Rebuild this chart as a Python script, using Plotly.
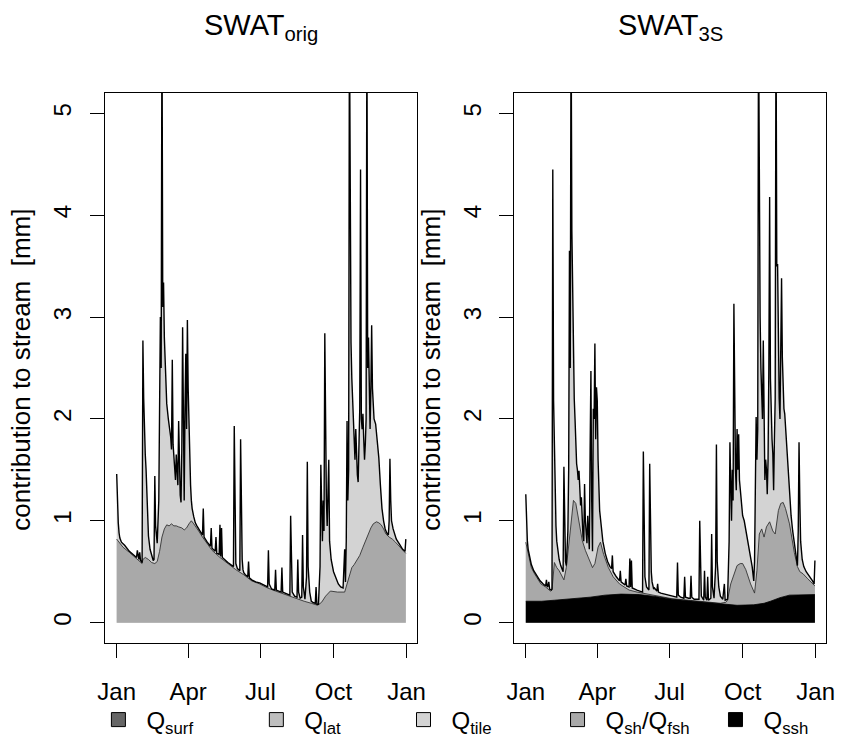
import plotly.graph_objects as go

# ---------------- data (day of year, 0 = 1 Jan; values in mm) ----------------
# SWAT_orig : top of shallow-aquifer baseflow layer and top of total stack
orig_base = [(0,0.82),(8,0.74),(16,0.69),(24,0.63),(30,0.59),(32,0.58),(33,0.62),(36,0.64),(40,0.62),(44,0.59),
             (48,0.58),(51,0.60),(54,0.70),(57,0.84),(60,0.92),(63,0.96),(66,0.95),(69,0.97),(72,0.95),(75,0.95),
             (78,0.94),(82,0.93),(85,0.91),(88,0.93),(91,0.97),(94,1.00),(97,0.97),(100,0.94),(104,0.89),(108,0.84),
             (114,0.77),(120,0.71),(130,0.64),(140,0.58),(150,0.52),(160,0.47),(170,0.41),(180,0.38),(190,0.34),
             (200,0.31),(212,0.275),(220,0.25),(228,0.23),(236,0.21),(245,0.19),(253,0.17),(258,0.20),(263,0.26),
             (269,0.31),(278,0.30),(287,0.30),(290,0.38),(293,0.46),(296,0.54),(299,0.57),(302,0.61),(306,0.66),
             (310,0.74),(313,0.80),(316,0.87),(320,0.93),(323,0.97),(327,0.99),(330,0.98),(333,0.96),(336,0.92),
             (339,0.87),(343,0.84),(347,0.82),(351,0.79),(357,0.74),(364,0.68)]
orig_total = [(0,1.46),(1,1.15),(2,0.98),(3,0.88),(4,0.83),(6,0.79),(10,0.76),(16,0.70),(22,0.66),(25,0.64),
              (26,0.71),(27,0.63),(28,0.62),(29,0.69),(30,0.61),(32,0.59),(33,2.77),(34,2.2),(35,1.82),(36,1.65),
              (37,1.5),(38,1.3),(39,1.05),(40,0.85),(42,0.72),(44,0.65),(46,0.61),(47,0.62),(48,1.44),(49,0.95),
              (50,0.80),(51,0.78),(53,1.2),(54,1.9),(55,3.0),(56,2.5),(57,6.0),(58,3.1),(59,3.34),(60,2.8),
              (61,2.5),(62,2.3),(63,2.15),(65,2.0),(67,1.88),(68,1.82),(69,1.7),(70,2.58),(71,1.75),(72,1.6),
              (73,1.45),(74,1.4),(75,1.65),(76,1.5),(77,1.35),(78,1.98),(79,1.55),(80,1.25),(81,1.18),(82,1.7),
              (83,2.9),(84,1.8),(85,1.2),(86,2.1),(87,2.64),(88,1.9),(89,2.97),(90,2.3),(91,1.9),(92,1.6),
              (93,1.35),(94,1.2),(95,1.12),(97,1.04),(99,0.98),(101,0.95),(104,0.91),(107,0.87),(108,0.86),
              (109,1.12),(110,0.84),(114,0.79),(118,0.75),(119,0.93),(120,0.73),(124,0.70),(125,0.84),(126,0.68),
              (129,0.67),(130,0.96),(131,0.65),(132,0.93),(133,0.64),(140,0.59),(147,0.55),(148,1.93),(149,0.9),
              (150,0.58),(152,0.53),(155,0.51),(156,1.80),(157,1.1),(158,0.62),(159,0.52),(160,0.49),(162,0.47),
              (165,0.45),(166,0.60),(167,0.44),(170,0.42),(175,0.40),(180,0.39),(185,0.37),(190,0.35),(191,0.71),
              (192,0.38),(195,0.33),(199,0.32),(200,0.52),(201,0.32),(204,0.31),(207,0.30),(208,0.54),(209,0.30),
              (212,0.29),(215,0.28),(218,0.27),(219,1.05),(220,0.50),(221,0.30),(224,0.26),(227,0.25),(228,0.62),
              (229,0.30),(231,0.24),(233,0.25),(234,0.86),(235,0.35),(237,0.23),(239,0.45),(240,1.58),(241,0.55),
              (243,0.30),(245,0.21),(248,0.195),(250,0.19),(251,0.35),(252,0.18),(254,0.18),(256,0.55),(257,1.55),
              (258,0.9),(259,0.8),(260,1.2),(261,0.9),(262,2.84),(263,1.8),(264,1.2),(265,0.95),(267,1.6),(268,0.8),
              (270,0.62),(273,0.5),(276,0.43),(279,0.38),(282,0.35),(285,0.34),(287,0.72),(288,0.4),(289,0.8),
              (290,1.98),(291,1.2),(292,1.5),(293,6.0),(294,3.0),(295,2.75),(296,2.4),(297,2.2),(298,2.0),
              (299,1.7),(300,1.6),(301,1.9),(302,1.5),(303,1.45),(304,1.38),(305,1.7),(306,2.1),(307,4.45),
              (308,2.0),(309,1.9),(310,2.05),(311,1.8),(312,1.6),(313,1.75),(314,2.0),(315,6.0),(316,2.5),
              (317,2.8),(318,2.0),(319,1.9),(320,2.3),(321,2.92),(322,2.3),(323,2.1),(324,2.0),(326,1.95),
              (328,1.8),(330,1.62),(332,1.35),(334,1.12),(336,1.0),(338,0.92),(340,0.88),(342,0.86),(343,1.0),
              (344,1.61),(345,1.2),(346,1.0),(348,0.92),(350,0.86),(352,0.82),(356,0.77),(360,0.72),(363,0.70),
              (364,0.82)]

# SWAT_3S : top of deep (ssh) layer, top of fsh layer, top of total stack
s3_ssh = [(0,0.21),(20,0.21),(36,0.22),(60,0.235),(81,0.25),(100,0.27),(120,0.28),(143,0.275),(165,0.255),
          (184,0.23),(205,0.215),(225,0.20),(245,0.185),(266,0.17),(287,0.175),(300,0.19),(308,0.21),(320,0.245),
          (332,0.27),(345,0.275),(364,0.275)]
s3_base = [(0,0.79),(4,0.64),(7,0.54),(11,0.48),(19,0.38),(25,0.35),(31,0.31),(33,0.32),(35,0.55),(36,0.59),
           (39,0.54),(42,0.51),(48,0.42),(51,0.54),(56,0.90),(60,1.20),(63,1.17),(67,0.97),(71,0.81),(75,0.71),
           (79,0.64),(84,0.54),(87,0.58),(91,0.74),(94,0.79),(98,0.67),(104,0.54),(110,0.45),(118,0.38),(130,0.32),
           (140,0.30),(151,0.285),(165,0.262),(184,0.235),(205,0.22),(225,0.205),(245,0.19),(252,0.20),(254,0.22),
           (258,0.38),(262,0.48),(266,0.56),(270,0.58),(273,0.58),(277,0.52),(283,0.38),(288,0.29),(291,0.51),
           (294,0.87),(297,0.92),(300,0.84),(303,0.94),(307,0.99),(311,0.90),(314,0.87),(318,1.10),(321,1.17),
           (324,1.18),(327,1.12),(332,0.97),(338,0.69),(342,0.55),(345,0.50),(349,0.48),(355,0.43),(364,0.36)]
s3_total = [(0,1.26),(1,0.95),(2,0.80),(3,0.72),(5,0.63),(7,0.57),(10,0.51),(14,0.46),(18,0.41),(22,0.38),
            (25,0.36),(26,0.42),(27,0.35),(28,0.36),(29,0.40),(30,0.33),(32,0.32),(33,0.33),(34,4.45),(35,2.18),
            (36,1.6),(37,1.2),(38,0.95),(39,0.8),(40,0.72),(42,0.62),(44,0.56),(46,0.51),(47,0.5),(48,1.53),
            (49,0.7),(50,0.6),(51,0.56),(53,0.9),(54,1.5),(55,3.65),(56,2.5),(57,6.0),(58,3.85),(59,3.2),
            (60,2.5),(61,2.2),(62,2.0),(63,1.75),(64,1.56),(65,1.5),(66,1.4),(67,1.49),(68,1.3),(69,1.15),
            (70,1.23),(71,1.0),(72,0.85),(73,0.8),(74,1.36),(75,1.0),(76,0.85),(77,0.78),(78,1.05),(79,0.75),
            (80,0.72),(81,1.7),(82,2.47),(83,1.2),(84,0.7),(85,2.1),(86,2.0),(87,2.74),(88,1.8),(89,2.31),
            (90,2.18),(91,1.6),(92,1.3),(93,1.1),(95,0.95),(97,0.8),(100,0.68),(103,0.6),(106,0.55),(108,0.53),
            (109,0.66),(110,0.5),(114,0.45),(118,0.41),(119,0.51),(120,0.4),(125,0.37),(126,0.43),(127,0.36),
            (130,0.35),(131,0.63),(132,0.35),(133,0.61),(134,0.34),(140,0.32),(147,0.30),(148,1.68),(149,0.6),
            (150,0.45),(152,0.35),(155,0.32),(156,1.56),(157,0.85),(158,0.5),(159,0.4),(161,0.33),(162,0.34),
            (165,0.31),(166,0.38),(167,0.3),(170,0.29),(175,0.28),(180,0.27),(185,0.26),(190,0.25),(191,0.59),
            (192,0.27),(195,0.25),(199,0.24),(200,0.45),(201,0.25),(205,0.24),(207,0.24),(208,0.46),(209,0.25),
            (212,0.23),(215,0.23),(218,0.23),(219,1.0),(220,0.45),(221,0.26),(224,0.22),(225,0.51),(226,0.25),
            (228,0.22),(229,0.45),(230,0.22),(233,0.24),(234,0.87),(235,0.35),(237,0.24),(239,0.55),(240,1.75),
            (241,0.6),(243,0.35),(245,0.26),(248,0.23),(250,0.38),(251,0.22),(254,0.23),(256,0.8),(257,1.77),
            (258,1.2),(259,1.0),(260,1.5),(261,1.2),(262,3.13),(263,2.0),(264,1.5),(265,1.3),(266,1.9),
            (267,1.5),(268,1.85),(269,1.4),(271,1.2),(273,1.05),(275,1.0),(278,0.85),(281,0.72),(283,0.64),
            (285,0.55),(287,0.41),(288,0.6),(289,1.3),(290,2.02),(291,1.6),(292,1.9),(293,6.0),(294,3.55),
            (295,3.0),(296,2.5),(297,2.2),(298,2.0),(299,2.77),(300,1.9),(301,1.4),(302,1.6),(303,1.5),
            (304,1.26),(305,1.6),(306,2.5),(307,4.18),(308,2.4),(309,2.0),(310,1.8),(311,1.66),(312,1.30),
            (313,1.8),(314,2.2),(315,6.0),(316,3.5),(317,3.52),(318,2.5),(319,2.2),(320,2.0),(321,2.5),
            (322,3.38),(323,2.6),(324,2.21),(325,2.1),(326,2.05),(328,1.8),(330,1.49),(332,1.25),(334,1.05),
            (336,0.9),(338,0.78),(340,0.65),(342,0.56),(343,0.9),(344,1.77),(345,1.2),(346,0.8),(348,0.62),
            (350,0.55),(353,0.50),(357,0.46),(361,0.41),(363,0.38),(364,0.61)]

month_tick_days = [0, 90, 181, 273, 365]
month_tick_labels = ["Jan", "Apr", "Jul", "Oct", "Jan"]
y_tick_vals = [0, 1, 2, 3, 4, 5]

legend_names = ["Q<sub>surf</sub>", "Q<sub>lat</sub>", "Q<sub>tile</sub>",
                "Q<sub>sh</sub>/Q<sub>fsh</sub>", "Q<sub>ssh</sub>"]
legend_colors = ["#666666", "#BEBEBE", "#D3D3D3", "#A9A9A9", "#000000"]

C_TILE, C_SH, C_SSH = "#D3D3D3", "#A9A9A9", "#000000"
FONT = "Liberation Sans, Arial, Helvetica, sans-serif"
W, H = 844, 744
FS = 24  # base font size (R cex = 1)


def split(pairs):
    return [p[0] for p in pairs], [p[1] for p in pairs]


fig = go.Figure()


def fill_layer(pairs, color, xa, ya, line_color=None, line_w=0):
    x, y = split(pairs)
    fig.add_trace(go.Scatter(x=x, y=y, mode="lines", fill="tozeroy", fillcolor=color,
                             line=dict(color=line_color or color, width=line_w),
                             xaxis=xa, yaxis=ya, showlegend=False, hoverinfo="skip"))


def line_layer(pairs, color, width, xa, ya):
    x, y = split(pairs)
    fig.add_trace(go.Scatter(x=x, y=y, mode="lines", line=dict(color=color, width=width),
                             xaxis=xa, yaxis=ya, showlegend=False, hoverinfo="skip"))


# left panel
fill_layer(orig_total, C_TILE, "x", "y")
fill_layer(orig_base, C_SH, "x", "y", "#333333", 0.9)
line_layer(orig_total, "black", 1.4, "x", "y")
# right panel
fill_layer(s3_total, C_TILE, "x2", "y2")
fill_layer(s3_base, C_SH, "x2", "y2", "#333333", 0.9)
fill_layer(s3_ssh, C_SSH, "x2", "y2", "black", 0.8)
line_layer(s3_total, "black", 1.4, "x2", "y2")

# legend entries, one small legend per entry so they sit in one row like the original
legend_sym_px = [113, 274, 424, 581, 742]
legend_layouts = {}
for i, (name, col) in enumerate(zip(legend_names, legend_colors)):
    lg = "legend" if i == 0 else f"legend{i + 1}"
    fig.add_trace(go.Scatter(x=[None], y=[None], mode="markers", name=name, legend=lg,
                             marker=dict(symbol="square", size=14, color=col,
                                         line=dict(color="black", width=1)),
                             xaxis="x", yaxis="y", showlegend=True))
    legend_layouts[lg] = dict(orientation="h", x=(legend_sym_px[i] - 29) / W, xanchor="left",
                              y=1 - 720 / H, yanchor="middle",
                              font=dict(family=FONT, size=FS, color="black"),
                              itemwidth=46, bgcolor="rgba(0,0,0,0)")

y_dom = [1 - 643 / H, 1 - 93 / H]
xcommon = dict(range=[-14.56, 378.56], tickvals=month_tick_days, ticktext=month_tick_labels,
               ticks="outside", ticklen=14, tickwidth=1, tickcolor="black",
               showline=True, mirror=True, linecolor="black", linewidth=1.2,
               showgrid=False, zeroline=False, ticklabelstandoff=13,
               tickfont=dict(family=FONT, size=FS, color="black"))
ycommon = dict(range=[-0.2, 5.2], tickvals=y_tick_vals, tickangle=-90,
               ticks="outside", ticklen=14, tickwidth=1, tickcolor="black",
               showline=True, mirror=True, linecolor="black", linewidth=1.2,
               showgrid=False, zeroline=False, ticklabelstandoff=9,
               tickfont=dict(family=FONT, size=FS, color="black"), domain=y_dom)

fig.update_layout(
    width=W, height=H, autosize=False,
    margin=dict(l=0, r=0, t=0, b=0),
    paper_bgcolor="white", plot_bgcolor="white",
    font=dict(family=FONT, color="black"),
    xaxis=dict(xcommon, domain=[99 / W, 417.3 / W], anchor="y"),
    yaxis=dict(ycommon, anchor="x"),
    xaxis2=dict(xcommon, domain=[516 / W, 834.3 / W], anchor="y2"),
    yaxis2=dict(ycommon, anchor="x2"),
    annotations=[
        dict(text="SWAT<sub>orig</sub>", x=(99 + 417.3) / 2 / W, y=1 - 27 / H, xref="paper", yref="paper",
             showarrow=False, font=dict(family=FONT, size=29, color="black"), xanchor="center", yanchor="middle"),
        dict(text="SWAT<sub>3S</sub>", x=(516 + 834.3) / 2 / W, y=1 - 27 / H, xref="paper", yref="paper",
             showarrow=False, font=dict(family=FONT, size=29, color="black"), xanchor="center", yanchor="middle"),
        dict(text="contribution to stream  [mm]", x=13 / W, y=1 - 370 / H, xref="paper", yref="paper",
             textangle=-90, showarrow=False, font=dict(family=FONT, size=26, color="black"),
             xanchor="center", yanchor="middle"),
        dict(text="contribution to stream  [mm]", x=431 / W, y=1 - 370 / H, xref="paper", yref="paper",
             textangle=-90, showarrow=False, font=dict(family=FONT, size=26, color="black"),
             xanchor="center", yanchor="middle"),
    ],
)
fig.update_layout(**legend_layouts)

fig.write_html("out.html", config={"displayModeBar": False})
